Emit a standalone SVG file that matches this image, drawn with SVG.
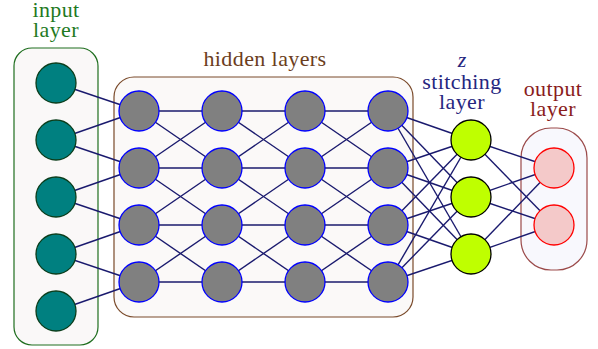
<svg xmlns="http://www.w3.org/2000/svg" width="598" height="349" viewBox="0 0 598 349">
<rect width="598" height="349" fill="#ffffff"/>
<g id="boxes" stroke-width="1.2">
  <rect id="input-box" x="14" y="48" width="84" height="297" rx="18" fill="#faf8f8" stroke="#1f6e1f"/>
  <rect id="hidden-box" x="114" y="77" width="299" height="240" rx="20" fill="#fbf9f8" stroke="#7a4a2a"/>
  <rect id="output-box" x="521" y="128" width="66" height="142" rx="30" fill="#f8f8fd" stroke="#9b4a4a"/>
</g>
<text x="56" y="17" font-family="'Liberation Serif'" font-size="22" letter-spacing="0.4" text-anchor="middle" fill="#1f7a1f">input</text>
<text x="56" y="37" font-family="'Liberation Serif'" font-size="22" letter-spacing="0.4" text-anchor="middle" fill="#1f7a1f">layer</text>
<text x="265" y="66" font-family="'Liberation Serif'" font-size="22" letter-spacing="0.4" text-anchor="middle" fill="#6b3d20">hidden layers</text>
<text x="462" y="67" font-family="'Liberation Serif'" font-size="22" font-style="italic" text-anchor="middle" fill="#262680">z</text>
<text x="462" y="89" font-family="'Liberation Serif'" font-size="22" letter-spacing="0.4" text-anchor="middle" fill="#262680">stitching</text>
<text x="462" y="109" font-family="'Liberation Serif'" font-size="22" letter-spacing="0.4" text-anchor="middle" fill="#262680">layer</text>
<text x="553" y="96" font-family="'Liberation Serif'" font-size="22" letter-spacing="0.4" text-anchor="middle" fill="#8a1c1c">output</text>
<text x="553" y="116" font-family="'Liberation Serif'" font-size="22" letter-spacing="0.4" text-anchor="middle" fill="#8a1c1c">layer</text>
<g id="connectors" stroke="#1a1a6e" stroke-width="1.4">
  <line x1="56" y1="83" x2="139" y2="111"/>
  <line x1="56" y1="140" x2="139" y2="111"/>
  <line x1="56" y1="140" x2="139" y2="168"/>
  <line x1="56" y1="197" x2="139" y2="168"/>
  <line x1="56" y1="197" x2="139" y2="225"/>
  <line x1="56" y1="254" x2="139" y2="225"/>
  <line x1="56" y1="254" x2="139" y2="282"/>
  <line x1="56" y1="311" x2="139" y2="282"/>

  <line x1="139" y1="111" x2="222" y2="111"/>
  <line x1="139" y1="168" x2="222" y2="168"/>
  <line x1="139" y1="225" x2="222" y2="225"/>
  <line x1="139" y1="282" x2="222" y2="282"/>
  <line x1="139" y1="111" x2="222" y2="168"/>
  <line x1="139" y1="168" x2="222" y2="111"/>
  <line x1="139" y1="168" x2="222" y2="225"/>
  <line x1="139" y1="225" x2="222" y2="168"/>
  <line x1="139" y1="225" x2="222" y2="282"/>
  <line x1="139" y1="282" x2="222" y2="225"/>

  <line x1="222" y1="111" x2="305" y2="111"/>
  <line x1="222" y1="168" x2="305" y2="168"/>
  <line x1="222" y1="225" x2="305" y2="225"/>
  <line x1="222" y1="282" x2="305" y2="282"/>
  <line x1="222" y1="111" x2="305" y2="168"/>
  <line x1="222" y1="168" x2="305" y2="111"/>
  <line x1="222" y1="168" x2="305" y2="225"/>
  <line x1="222" y1="225" x2="305" y2="168"/>
  <line x1="222" y1="225" x2="305" y2="282"/>
  <line x1="222" y1="282" x2="305" y2="225"/>

  <line x1="305" y1="111" x2="388" y2="111"/>
  <line x1="305" y1="168" x2="388" y2="168"/>
  <line x1="305" y1="225" x2="388" y2="225"/>
  <line x1="305" y1="282" x2="388" y2="282"/>
  <line x1="305" y1="111" x2="388" y2="168"/>
  <line x1="305" y1="168" x2="388" y2="111"/>
  <line x1="305" y1="168" x2="388" y2="225"/>
  <line x1="305" y1="225" x2="388" y2="168"/>
  <line x1="305" y1="225" x2="388" y2="282"/>
  <line x1="305" y1="282" x2="388" y2="225"/>

  <line x1="388" y1="111" x2="471" y2="140"/>
  <line x1="388" y1="111" x2="471" y2="197"/>
  <line x1="388" y1="111" x2="471" y2="254"/>
  <line x1="388" y1="168" x2="471" y2="140"/>
  <line x1="388" y1="168" x2="471" y2="197"/>
  <line x1="388" y1="168" x2="471" y2="254"/>
  <line x1="388" y1="225" x2="471" y2="140"/>
  <line x1="388" y1="225" x2="471" y2="197"/>
  <line x1="388" y1="225" x2="471" y2="254"/>
  <line x1="388" y1="282" x2="471" y2="140"/>
  <line x1="388" y1="282" x2="471" y2="197"/>
  <line x1="388" y1="282" x2="471" y2="254"/>

  <line x1="471" y1="140" x2="554" y2="168"/>
  <line x1="471" y1="140" x2="554" y2="225"/>
  <line x1="471" y1="197" x2="554" y2="168"/>
  <line x1="471" y1="197" x2="554" y2="225"/>
  <line x1="471" y1="254" x2="554" y2="168"/>
  <line x1="471" y1="254" x2="554" y2="225"/>
</g>
<g id="input-nodes" fill="#008080" stroke="#0b3d1b" stroke-width="1.3">
  <g id="in1"><circle cx="56" cy="83" r="20"/></g>
  <g id="in2"><circle cx="56" cy="140" r="20"/></g>
  <g id="in3"><circle cx="56" cy="197" r="20"/></g>
  <g id="in4"><circle cx="56" cy="254" r="20"/></g>
  <g id="in5"><circle cx="56" cy="311" r="20"/></g>
</g>
<g id="hidden-nodes" fill="#808080" stroke="#0000ff" stroke-width="1.3">
  <g id="h1-1"><circle cx="139" cy="111" r="20"/></g>
  <g id="h1-2"><circle cx="139" cy="168" r="20"/></g>
  <g id="h1-3"><circle cx="139" cy="225" r="20"/></g>
  <g id="h1-4"><circle cx="139" cy="282" r="20"/></g>
  <g id="h2-1"><circle cx="222" cy="111" r="20"/></g>
  <g id="h2-2"><circle cx="222" cy="168" r="20"/></g>
  <g id="h2-3"><circle cx="222" cy="225" r="20"/></g>
  <g id="h2-4"><circle cx="222" cy="282" r="20"/></g>
  <g id="h3-1"><circle cx="305" cy="111" r="20"/></g>
  <g id="h3-2"><circle cx="305" cy="168" r="20"/></g>
  <g id="h3-3"><circle cx="305" cy="225" r="20"/></g>
  <g id="h3-4"><circle cx="305" cy="282" r="20"/></g>
  <g id="h4-1"><circle cx="388" cy="111" r="20"/></g>
  <g id="h4-2"><circle cx="388" cy="168" r="20"/></g>
  <g id="h4-3"><circle cx="388" cy="225" r="20"/></g>
  <g id="h4-4"><circle cx="388" cy="282" r="20"/></g>
</g>
<g id="stitching-nodes" fill="#bfff00" stroke="#000000" stroke-width="1.3">
  <g id="s1"><circle cx="471" cy="140" r="20"/></g>
  <g id="s2"><circle cx="471" cy="197" r="20"/></g>
  <g id="s3"><circle cx="471" cy="254" r="20"/></g>
</g>
<g id="output-nodes" fill="#f4c9c9" stroke="#ff0000" stroke-width="1.3">
  <g id="o1"><circle cx="554" cy="168" r="20"/></g>
  <g id="o2"><circle cx="554" cy="225" r="20"/></g>
</g>
</svg>
